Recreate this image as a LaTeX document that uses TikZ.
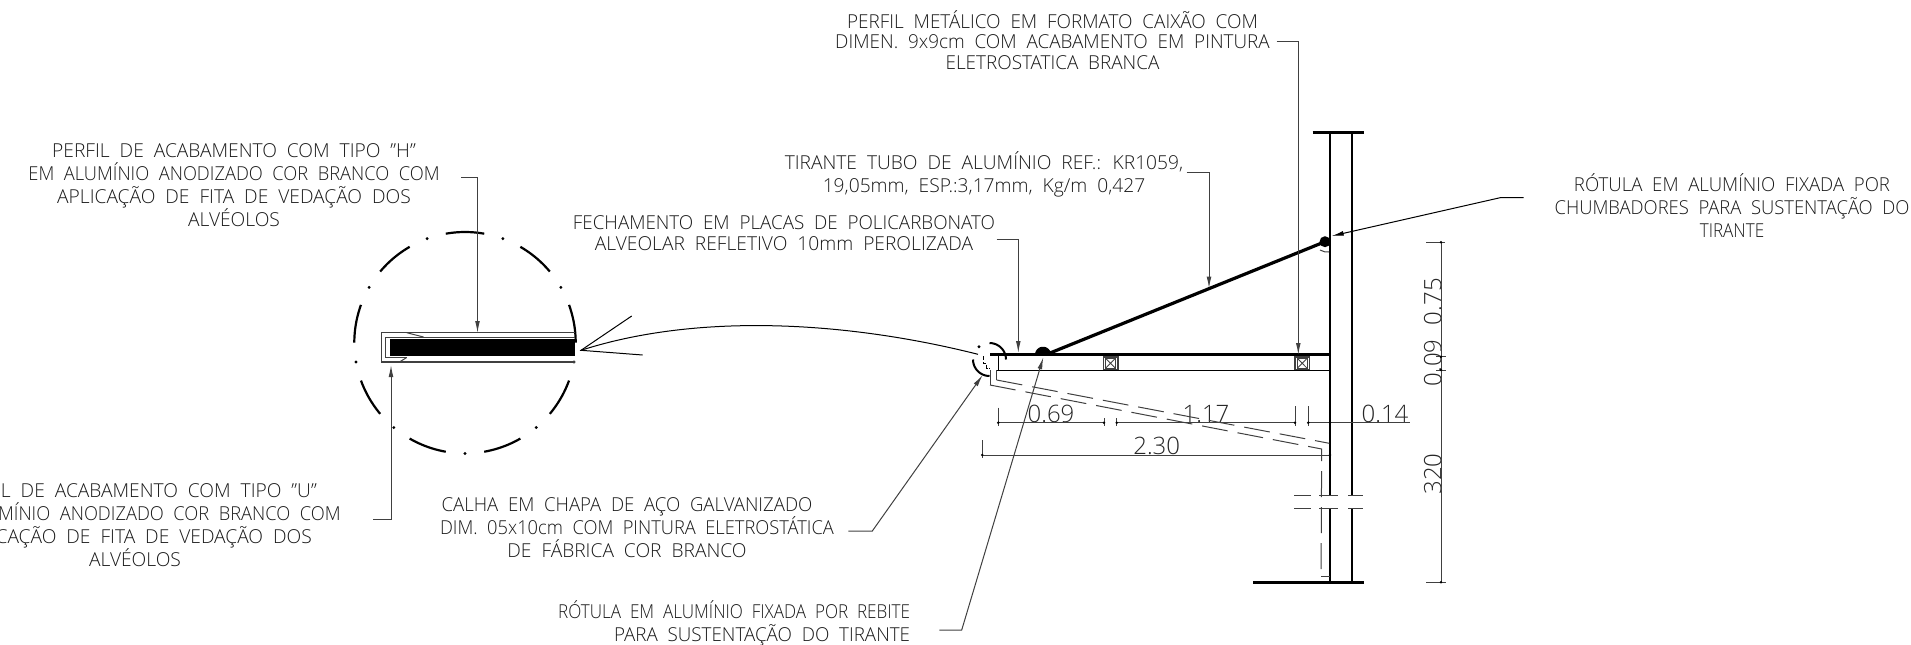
\documentclass[tikz,border=0pt]{standalone}
\usepackage{fontspec}
\setmainfont{Open Sans Light}[WordSpace=2.0]
\newfontfamily\fa{Open Sans Light}[WordSpace=2.0,FakeStretch=0.985]
\newfontfamily\fb{Open Sans Light}[WordSpace=2.0,FakeStretch=0.96]
\newfontfamily\fc{Open Sans Light}[WordSpace=2.0,FakeStretch=0.98]
\newfontfamily\fd{Open Sans Light}[WordSpace=2.0,FakeStretch=0.953]
\newfontfamily\fe{Open Sans Light}[WordSpace=2.0,FakeStretch=0.97]
\newfontfamily\ff{Open Sans Light}[WordSpace=2.0,FakeStretch=0.89]
\usetikzlibrary{arrows.meta}
\definecolor{ld}{gray}{0.25}
\tikzset{
 lbl/.style={align=center,inner sep=0pt,font=#1\fontsize{9.6pt}{11.5pt}\selectfont,text=black!90},
 lbltight/.style={align=center,inner sep=0pt,font=#1\fontsize{9.6pt}{10.3pt}\selectfont,text=black!90},
 dimt/.style={inner sep=0pt,font=\fontsize{12pt}{14pt}\selectfont,text=black!85},
 thinl/.style={line width=0.5pt,draw=ld},
 med/.style={line width=0.7pt,draw=black},
 heavy/.style={line width=1.6pt,draw=black},
 lead/.style={line width=0.5pt,draw=ld,-{Latex[length=6pt,width=2.4pt]}},
 dsh/.style={line width=0.5pt,draw=ld,dash pattern=on 13pt off 5pt},
 dot/.style={circle,fill=black,inner sep=0pt,minimum size=1.6pt},
}
\begin{document}
\begin{tikzpicture}[x=0.5pt,y=-0.5pt]
\useasboundingbox (0,0) rectangle (1911,644);
\clip (0,0) rectangle (1911,644);
% labels
\node[lbltight=\fa] (t1) at (1052.5,40) {PERFIL METÁLICO EM FORMATO CAIXÃO COM\\DIMEN. 9x9cm COM ACABAMENTO EM PINTURA\\ELETROSTATICA BRANCA};
\node[lbl=\rmfamily] (t2) at (234,185) {PERFIL DE ACABAMENTO COM TIPO ”H”\\{\fd EM ALUMÍNIO ANODIZADO COR BRANCO COM}\\APLICAÇÃO DE FITA DE VEDAÇÃO DOS\\ALVÉOLOS};
\node[lbl=\rmfamily] (t3) at (135,525) {PERFIL DE ACABAMENTO COM TIPO ”U”\\{\fd EM ALUMÍNIO ANODIZADO COR BRANCO COM}\\APLICAÇÃO DE FITA DE VEDAÇÃO DOS\\ALVÉOLOS};
\node[lbl=\rmfamily] (t4) at (984,174) {TIRANTE TUBO DE ALUMÍNIO REF.: KR1059,\\19,05mm, ESP.:3,17mm, Kg/m 0,427};
\node[lbltight=\fc] (t5) at (784,233) {FECHAMENTO EM PLACAS DE POLICARBONATO\\{\rmfamily ALVEOLAR REFLETIVO 10mm PEROLIZADA}};
\node[lbl=\fd] (t6) at (637,527.5) {{\fe CALHA EM CHAPA DE AÇO GALVANIZADO}\hspace*{10pt}\\DIM. 05x10cm COM PINTURA ELETROSTÁTICA\\{\rmfamily DE FÁBRICA COR BRANCO}\hspace*{10pt}};
\node[lbl=\ff,align=right,anchor=east] (t7) at (910.5,623.5) {RÓTULA EM ALUMÍNIO FIXADA POR REBITE\\{\fc PARA SUSTENTAÇÃO DO TIRANTE}};
\node[lbl=\fe] (t8) at (1732,206) {RÓTULA EM ALUMÍNIO FIXADA POR\\{\fb CHUMBADORES PARA SUSTENTAÇÃO DO}\\{\ff TIRANTE}};
% dimension texts
\node[dimt] (d1) at (1051,414) {0.69};
\node[dimt] (d2) at (1206,414) {1.17};
\node[dimt] (d3) at (1385,414) {0.14};
\node[dimt] (d4) at (1156.7,446) {2.30};
\node[dimt,rotate=90] (d5) at (1432.7,301.7) {0.75};
\node[dimt,rotate=90] (d6) at (1432.7,363) {0.09};
\node[dimt,rotate=90] (d7) at (1432.7,474) {320};
% detail circle
\foreach \a in {90,50,10,-30,-70,-110,-150,170,130}
  \draw[line width=1.1pt] plot[domain=\a-10:\a+10,samples=12,smooth] ({465+110.7*cos(\x)},{342.7-110.7*sin(\x)});
\foreach \a in {70,30,-10,-50,-90,-130,-170,150,110}
  \node[dot] (c\a) at ({465+110.7*cos(\a)},{342.7-110.7*sin(\a)}) {};
% detail profile
\draw[thinl,line width=0.7pt] (575,332.7) -- (381.7,332.7) -- (381.7,362) -- (575,362);
\fill[black] (390,338.7) rectangle (575,356);
\draw[thinl,line width=0.7pt] (390,337.7) -- (575,337.7);
\draw[thinl] (390,337) -- (385.7,337) -- (385.7,357.5) -- (406.7,357.5);
\draw[thinl] (406.7,332.7) -- (423.5,337);
\draw[thinl] (399.5,362) -- (406.7,357.5);
% big callout wedge
\coordinate (w0) at (581,350.3);
\coordinate (w1) at (631.7,316);
\coordinate (w2) at (642.7,355);
\coordinate (w3) at (978,354.3);
\draw[line width=0.5pt] (w1) -- (w0) -- (w2);
\draw[line width=0.5pt] (w3) .. controls (850,322) and (700,312) .. (w0);
% column
\draw[heavy,line width=1.1pt] (1330,132.3) -- (1330,495);
\draw[heavy,line width=1.1pt] (1351.7,132.3) -- (1351.7,495);
\draw[heavy,line width=1.1pt] (1330,508.3) -- (1330,582.3);
\draw[heavy,line width=1.1pt] (1351.7,508.3) -- (1351.7,582.3);
\draw[heavy,line width=1.2pt] (1312.7,132.3) -- (1364,132.3);
\draw[heavy,line width=1.2pt] (1253,582.3) -- (1364,582.3);
\foreach \y in {495,508.3} {
  \draw[thinl] (1294,\y) -- (1310.7,\y);
  \draw[thinl] (1319,\y) -- (1338.3,\y);
  \draw[thinl] (1348.3,\y) -- (1363.3,\y);
}
% canopy
\draw[heavy] (990,354.7) -- (1330,354.7);
\draw[med,line width=0.45pt] (997,370) -- (1330,370);
\draw[med,line width=0.45pt] (998.7,354.7) -- (998.7,370);
\draw[heavy] (1050,353) -- (1325,241.7);
\fill[black] plot[domain=0:180,samples=14] ({1043+8*cos(\x)},{354.7-8*sin(\x)}) -- cycle;
\fill[black] (1325,241.7) circle[radius=5.5];
\draw[line width=1pt] (1329.5,230) -- (1329.5,258);
\draw[thinl] (1320,250) .. controls (1323,252) and (1326,252) .. (1329,252);
\foreach \x in {1103.3,1295} {
  \draw[thinl,line width=0.8pt] (\x,356.7) rectangle (\x+14.4,369.5);
  \draw[thinl,line width=0.4pt] (\x+2.5,358.5) -- (\x+11.9,368) (\x+11.9,358.5) -- (\x+2.5,368);
  \draw[thinl,line width=0.4pt] (\x+2.5,358.5) rectangle (\x+11.9,368);
}
% gutter
\draw[line width=1pt] plot[domain=0:90,samples=12,smooth] ({989.5+16.5*cos(\x)},{359.5-16.5*sin(\x)});
\draw[line width=1pt] plot[domain=180:270,samples=12,smooth] ({989.5+16.5*cos(\x)},{359.5-16.5*sin(\x)});
\node[dot] (g1) at (979,346.7) {};
\draw[line width=0.7pt,dash pattern=on 2pt off 1pt] (983.3,356) -- (983.3,363.3) -- (986.7,363.3) -- (986.7,368.3) -- (990,368.3);
\draw[thinl] (990,370) -- (990,385);
\draw[thinl] (996.7,370) -- (996.7,380);
\draw[dsh] (996.7,380) -- (1329.3,443.3);
\draw[dsh] (990,385) -- (1321.7,449) -- (1321,576);
\draw[thinl] (1321,576) -- (1330,576);
% dimensions
\draw[thinl] (998.3,422.7) -- (1104,422.7);
\draw[thinl] (1116.7,422.7) -- (1295,422.7);
\draw[thinl] (1308.3,422.7) -- (1410,422.7);
\draw[thinl] (982.3,455) -- (1330,455);
\draw[thinl] (998.3,407.5) -- (998.3,426);
\draw[thinl] (1104,418) -- (1104,426);
\draw[thinl] (1116.7,418) -- (1116.7,426);
\draw[thinl] (1295,406) -- (1295,426);
\draw[thinl] (1308.3,406) -- (1308.3,426);
\draw[thinl] (982.3,440) -- (982.3,458);
\draw[thinl] (1441,242.3) -- (1441,582.3);
\draw[thinl] (1426,242.3) -- (1445,242.3);
\draw[thinl] (1436,356.7) -- (1446,356.7);
\draw[thinl] (1436,370) -- (1446,370);
\draw[thinl] (1426,582.3) -- (1446,582.3);
\foreach \p/\q in {998.3/422.7,1104/422.7,1116.7/422.7,1295/422.7,1308.3/422.7,1330/422.7,982.3/455,1330/455,1441/242.3,1441/356.7,1441/370,1441/582.3}
  \fill[black] (\p,\q) circle[radius=1.4];
% leaders
\coordinate (a1) at (1276.7,41.7);
\coordinate (a1c) at (1298.3,41.7);
\coordinate (a1e) at (1298.3,355);
\draw[lead] (a1) -- (a1c) -- (a1e);
\coordinate (a2) at (461,177);
\coordinate (a2c) at (477.5,177);
\coordinate (a2e) at (477.5,333);
\draw[lead] (a2) -- (a2c) -- (a2e);
\coordinate (a3) at (373,519);
\coordinate (a3c) at (391,519);
\coordinate (a3e) at (391,365);
\draw[lead] (a3) -- (a3c) -- (a3e);
\coordinate (a4) at (1186.7,172.7);
\coordinate (a4c) at (1209,172.7);
\coordinate (a4e) at (1209,288.5);
\draw[lead] (a4) -- (a4c) -- (a4e);
\coordinate (a5) at (996.7,239);
\coordinate (a5c) at (1018.3,239);
\coordinate (a5e) at (1018.3,353);
\draw[lead] (a5) -- (a5c) -- (a5e);
\coordinate (a6) at (848.3,531);
\coordinate (a6c) at (872.3,531);
\coordinate (a6e) at (982.7,375);
\draw[lead] (a6) -- (a6c) -- (a6e);
\coordinate (a7) at (939.3,630);
\coordinate (a7c) at (961.7,630);
\coordinate (a7e) at (1043.3,357.3);
\draw[lead] (a7) -- (a7c) -- (a7e);
\coordinate (a8) at (1523.5,197.5);
\coordinate (a8c) at (1501,197.5);
\coordinate (a8e) at (1331.7,236);
\draw[lead,draw=black] (a8) -- (a8c) -- (a8e);
\end{tikzpicture}
\end{document}
